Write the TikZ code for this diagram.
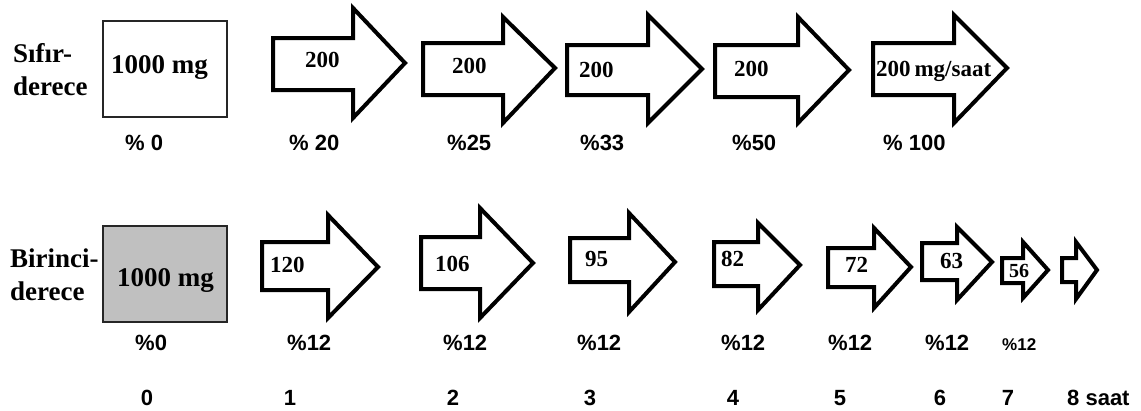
\documentclass[tikz,border=0pt]{standalone}
\usepackage{fontspec}
\setmainfont{Liberation Serif}
\setsansfont{Liberation Sans}
\definecolor{boxgray}{RGB}{192,192,192}
\newcommand\arrowshape[8]{%
  \draw[arrowline] (#1,#2) -- (#4,#2) -- (#4,#5) -- (#7,#8) -- (#4,#6) -- (#4,#3) -- (#1,#3) -- cycle;}
\tikzset{
  arrowline/.style={line width=4pt, line join=miter, draw=black, fill=white},
  sertxt/.style={inner sep=0pt, anchor=base west, font=\rmfamily\bfseries\fontsize{27}{32}\selectfont},
  arrtxt/.style={inner sep=0pt, anchor=base west, font=\rmfamily\bfseries\fontsize{23}{27}\selectfont},
  pcttxt/.style={inner sep=0pt, anchor=base west, font=\sffamily\bfseries\fontsize{22}{26}\selectfont},
  hourtxt/.style={inner sep=0pt, anchor=base, font=\sffamily\bfseries\fontsize{22}{26}\selectfont},
  dosebox/.style={draw=black!85, line width=1.4pt},
}
\begin{document}
\begin{tikzpicture}[x=1pt,y=-1pt]
\useasboundingbox (0,0) rectangle (1141,410);
% row labels
\node[sertxt] (s1) at (13,62) {Sıfır-};
\node[sertxt] (s2) at (13,95) {derece};
\node[sertxt] (b1) at (10,267) {Birinci-};
\node[sertxt] (b2) at (10,300) {derece};
% boxes
\draw[dosebox] (103,21) rectangle (227,117);
\node[sertxt] (box1) at (111,73) {1000 mg};
\draw[dosebox, fill=boxgray] (103,226) rectangle (227,322);
\node[sertxt] (box2) at (117,286) {1000 mg};
% top arrows
\arrowshape{273}{38}{90}{353}{8}{118}{405}{63}
\arrowshape{423}{43}{95}{503}{17}{123}{555}{68}
\arrowshape{567}{45}{95}{648}{15}{123}{702}{69}
\arrowshape{715}{45}{97}{798}{17}{123}{849}{70}
\arrowshape{873}{43}{95}{954}{15}{123}{1007}{68}
\node[arrtxt] (t1) at (305,67) {200};
\node[arrtxt] (t2) at (452,73) {200};
\node[arrtxt] (t3) at (579,77) {200};
\node[arrtxt] (t4) at (734,76) {200};
\node[arrtxt] (t5) at (876,76) {200\,mg/saat};
% top percents
\node[pcttxt] (p0) at (125,150) {\%\ 0};
\node[pcttxt] (p1) at (289,150) {\%\ 20};
\node[pcttxt] (p2) at (447,150) {\%25};
\node[pcttxt] (p3) at (580,150) {\%33};
\node[pcttxt] (p4) at (732,150) {\%50};
\node[pcttxt] (p5) at (883,150) {\%\ 100};
% bottom arrows
\arrowshape{262}{242}{290}{328}{215}{318}{378}{267}
\arrowshape{421}{237}{289}{480}{208}{318}{533}{263}
\arrowshape{570}{238}{282}{629}{213}{312}{675}{262}
\arrowshape{714}{242}{286}{758}{223}{310}{800}{265}
\arrowshape{828}{248}{287}{874}{228}{308}{911}{267}
\arrowshape{922}{243}{280}{957}{227}{300}{992}{262}
\arrowshape{1002}{258}{283}{1023}{242}{298}{1048}{270}
\arrowshape{1062}{258}{282}{1076}{242}{299}{1097}{270}
\node[arrtxt] (u1) at (270,272) {120};
\node[arrtxt] (u2) at (435,271) {106};
\node[arrtxt] (u3) at (585,266) {95};
\node[arrtxt] (u4) at (721,266) {82};
\node[arrtxt] (u5) at (845,272) {72};
\node[arrtxt] (u6) at (940,268) {63};
\node[arrtxt, font=\rmfamily\bfseries\fontsize{20}{24}\selectfont] (u7) at (1009,277) {56};
% bottom percents
\node[pcttxt] (q0) at (135,350) {\%0};
\node[pcttxt] (q1) at (287,350) {\%12};
\node[pcttxt] (q2) at (443,350) {\%12};
\node[pcttxt] (q3) at (577,350) {\%12};
\node[pcttxt] (q4) at (721,350) {\%12};
\node[pcttxt] (q5) at (828,350) {\%12};
\node[pcttxt] (q6) at (925,350) {\%12};
\node[pcttxt, font=\sffamily\bfseries\fontsize{17}{20}\selectfont] (q7) at (1002,350) {\%12};
% hours
\node[hourtxt] (h0) at (147,405) {0};
\node[hourtxt] (h1) at (290,405) {1};
\node[hourtxt] (h2) at (453,405) {2};
\node[hourtxt] (h3) at (590,405) {3};
\node[hourtxt] (h4) at (733,405) {4};
\node[hourtxt] (h5) at (840,405) {5};
\node[hourtxt] (h6) at (940,405) {6};
\node[hourtxt] (h7) at (1008,405) {7};
\node[hourtxt, anchor=base west] (h8) at (1067,405) {8 saat};
\end{tikzpicture}
\end{document}
